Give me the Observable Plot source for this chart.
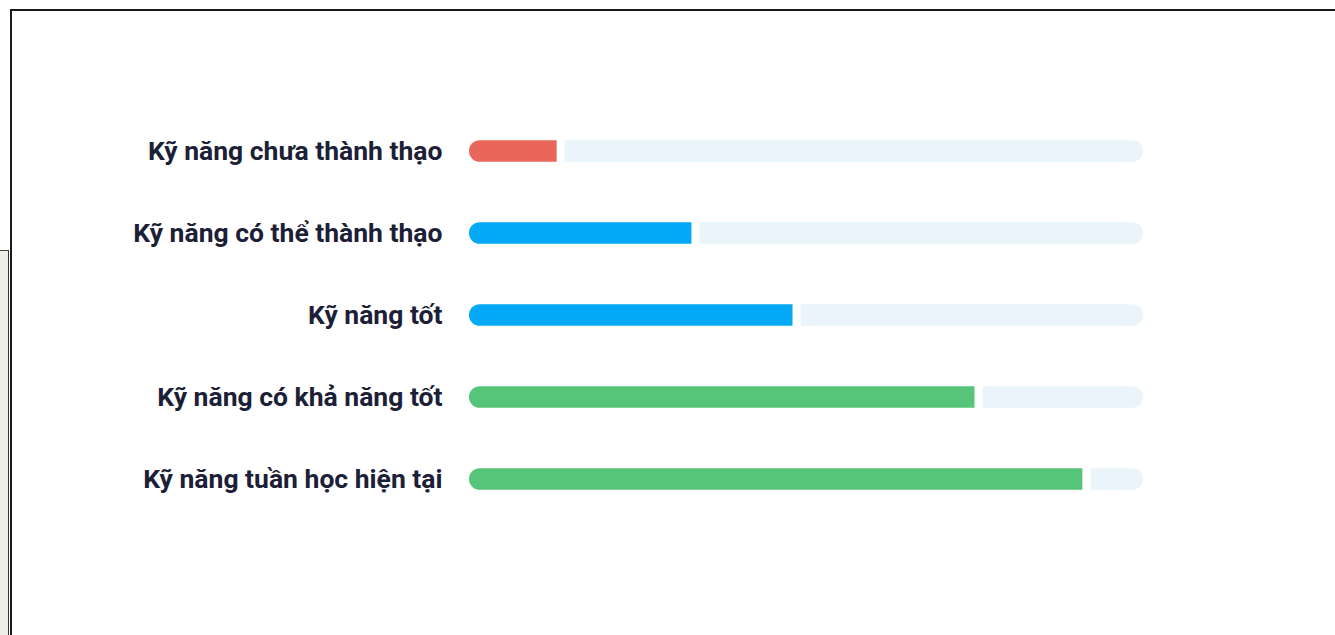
<!DOCTYPE html>
<html>
<head>
<meta charset="utf-8">
<script src="https://cdn.jsdelivr.net/npm/d3@7"></script>
<script src="https://cdn.jsdelivr.net/npm/@observablehq/plot@0.6"></script>
<style>
  html, body { margin: 0; padding: 0; background: #fff; width: 1335px; height: 635px; overflow: hidden; }
  #backwin { position: absolute; left: 0; top: 250px; width: 8px; height: 400px; background: #eeede6; border-top: 1px solid #444; border-right: 1px solid #333; }
  #frame { position: absolute; left: 10px; top: 9px; width: 1400px; height: 700px; border-top: 2px solid #1a1a1a; border-left: 2px solid #1a1a1a; background: #fff; }
  #chart { position: absolute; left: 0; top: 0; }
</style>
</head>
<body>
<div id="backwin"></div>
<div id="frame"></div>
<div id="chart"></div>
<script>
const categories = [
  "Kỹ năng chưa thành thạo",
  "Kỹ năng có thể thành thạo",
  "Kỹ năng tốt",
  "Kỹ năng có khả năng tốt",
  "Kỹ năng tuần học hiện tại"
];
const values = [13, 33, 48, 75, 91];
const barColors = ["#E8665A", "#03A9F4", "#03A9F4", "#56C57A", "#56C57A"];
const maxValue = 100;

const gap = 1.2;
const rows = categories.map((c, i) => ({
  category: c,
  value: values[i],
  trackStart: values[i] + gap
}));

const inset = 30.2;
const chart = Plot.plot({
  width: 1335,
  height: 635,
  marginLeft: 469,
  marginRight: 192,
  marginTop: 109,
  marginBottom: 114,
  style: { fontFamily: "Roboto, 'Noto Sans', sans-serif", color: "#1c2036", background: "transparent" },
  x: { domain: [0, maxValue], axis: null },
  y: { domain: categories, padding: 0, label: null },
  color: { type: "ordinal", domain: categories, range: barColors },
  marks: [
    Plot.barX(rows, { y: "category", x1: "trackStart", x2: () => maxValue, fill: "#EAF4FB", rx2: 11, insetTop: inset, insetBottom: inset }),
    Plot.barX(rows, { y: "category", x1: () => 0, x2: "value", fill: "category", rx1: 11, insetTop: inset, insetBottom: inset }),
    Plot.axisY({ tickSize: 0, tickPadding: 27, fontSize: 26.5, fontWeight: 700, dy: 0, label: null })
  ]
});
document.getElementById("chart").appendChild(chart);
</script>
</body>
</html>
